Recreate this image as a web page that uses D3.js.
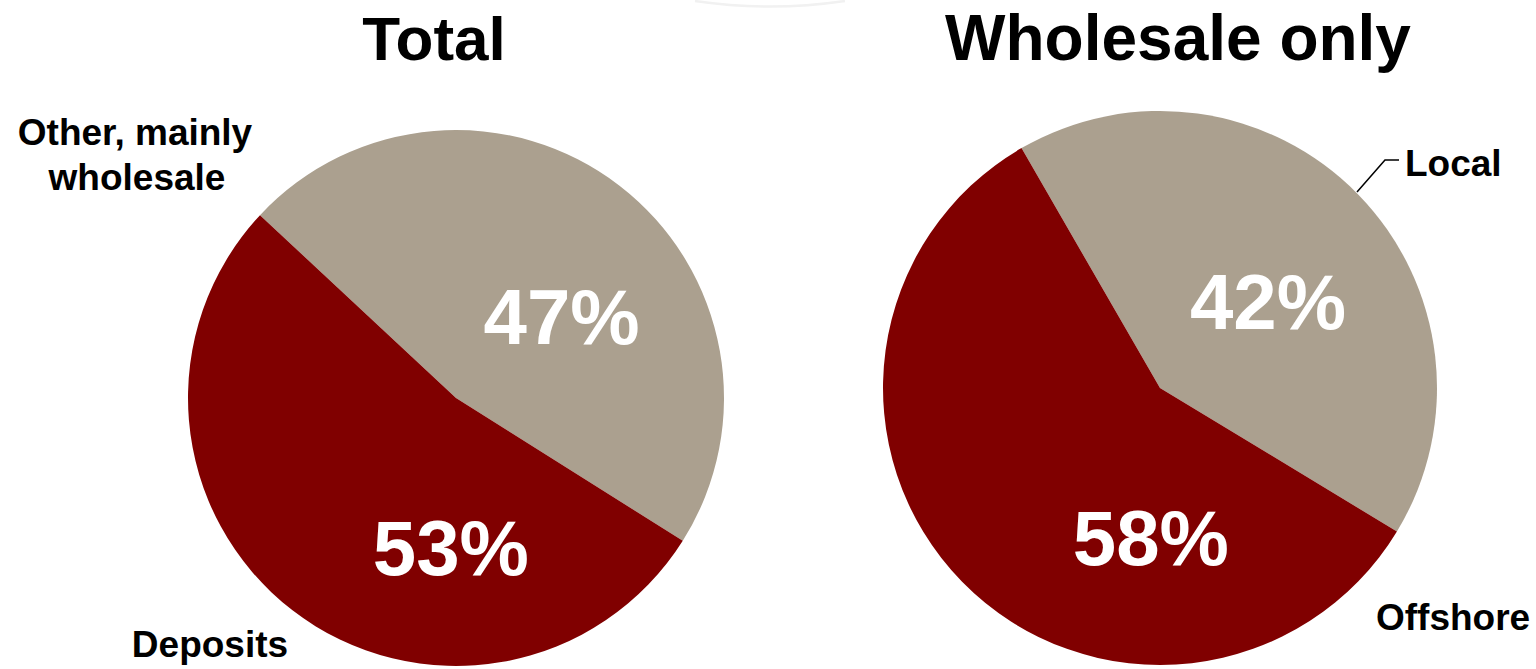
<!DOCTYPE html>
<html>
<head>
<meta charset="utf-8">
<script src="https://cdn.jsdelivr.net/npm/d3@7"></script>
<style>
  html, body { margin: 0; padding: 0; background: #fff; }
  svg { display: block; font-family: "Liberation Sans", Arial, sans-serif; font-weight: bold; }
</style>
</head>
<body>
<svg id="chart" width="1536" height="669"></svg>
<script>
// Data
const pieTitles = ["Total", "Wholesale only"];
const totalCategories = ["Other, mainly wholesale", "Deposits"];
const totalValues = [47, 53];
const wholesaleCategories = ["Local", "Offshore"];
const wholesaleValues = [42, 58];

const SLICE_COLORS = ["#aba08f", "#800000"];

const svg = d3.select('#chart');

// faint arc at the top edge (artifact in the source)
svg.append('path')
    .attr('d', 'M695,1 Q770,12 845,1')
    .attr('fill', 'none')
    .attr('stroke', '#f1f1f1')
    .attr('stroke-width', 2.5);

const pies = [
    {
        title: pieTitles[0], cats: totalCategories, vals: totalValues,
        cx: 456, cy: 398, r: 268, start: -47,
        titleX: 434, titleSize: 62,
        pctPos: [[52, 134], [182, 149]],
    },
    {
        title: pieTitles[1], cats: wholesaleCategories, vals: wholesaleValues,
        cx: 1160, cy: 388, r: 277, start: -30,
        titleX: 1178, titleSize: 64,
        pctPos: [[51, 139], [183.5, 149]],
    },
];

const rad = deg => deg * Math.PI / 180;

pies.forEach(p => {
    const pie = d3.pie().sort(null)
        .startAngle(rad(p.start))
        .endAngle(rad(p.start + 360));
    const arcs = pie(p.vals);
    const arc = d3.arc().innerRadius(0).outerRadius(p.r);

    const g = svg.append('g').attr('transform', `translate(${p.cx},${p.cy})`);

    g.selectAll('path')
        .data(arcs)
        .join('path')
        .attr('d', arc)
        .attr('fill', (d, i) => SLICE_COLORS[i]);

    // percent labels
    g.selectAll('text.pct')
        .data(arcs)
        .join('text')
        .attr('class', 'pct')
        .attr('x', (d, i) => Math.sin(rad(p.pctPos[i][0])) * p.pctPos[i][1])
        .attr('y', (d, i) => -Math.cos(rad(p.pctPos[i][0])) * p.pctPos[i][1])
        .attr('dy', '0.36em')
        .attr('text-anchor', 'middle')
        .attr('font-size', '78px')
        .attr('fill', '#fff')
        .text(d => d.data + '%');

    svg.append('text')
        .attr('x', p.titleX)
        .attr('y', 60)
        .attr('text-anchor', 'middle')
        .attr('font-size', p.titleSize + 'px')
        .attr('fill', '#000')
        .text(p.title);
});

// category labels
const lbl = svg.append('g').attr('font-size', '37px').attr('fill', '#000');

lbl.append('text')
    .attr('x', 135).attr('y', 145)
    .attr('text-anchor', 'middle')
    .text('Other, mainly');
lbl.append('text')
    .attr('x', 137).attr('y', 190)
    .attr('text-anchor', 'middle')
    .text('wholesale');

lbl.append('text')
    .attr('x', 210).attr('y', 657)
    .attr('text-anchor', 'middle')
    .text(totalCategories[1]);

lbl.append('text')
    .attr('x', 1405).attr('y', 176)
    .text(wholesaleCategories[0]);

lbl.append('text')
    .attr('x', 1376).attr('y', 630)
    .text(wholesaleCategories[1]);

// leader line for "Local"
svg.append('polyline')
    .attr('points', '1357,192 1385,160 1399,160')
    .attr('fill', 'none')
    .attr('stroke', '#000')
    .attr('stroke-width', 1.5);
</script>
</body>
</html>
